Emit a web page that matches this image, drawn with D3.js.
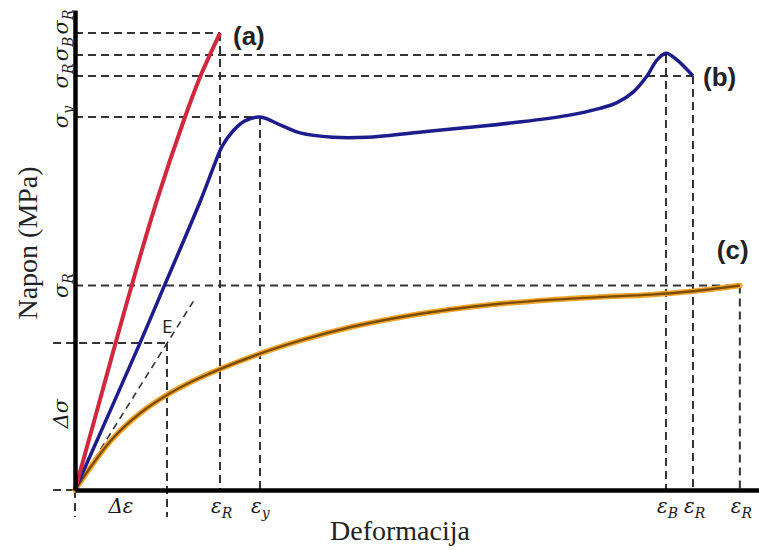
<!DOCTYPE html>
<html lang="hr">
<head>
<meta charset="UTF-8">
<title>Napon - deformacija</title>
<style>
body { margin: 0; background: #fff; }
</style>
</head>
<body>
<div id="chart"></div>
<script src="https://cdnjs.cloudflare.com/ajax/libs/d3/7.8.2/d3.min.js"></script>
<script>
// deformacija / napon, relative units (0..100 on both axes)
var curveA = [[0,0],[2.92,15],[5.85,30.2],[8.77,45],[11.99,60.4],[16.08,77.7],[18.27,86],[21.2,95.2]];
var curveB = [[0,0],[9.5,30.6],[12.87,41.9],[18.27,60],[20.47,68.1],[21.5,71.6],[23.1,74.8],[24.85,76.9],
  [27.05,77.7],[30.4,75.8],[32.9,74.4],[37.7,73.5],[42.7,73.5],[50,74.5],[57.3,75.5],[64.6,76.6],
  [71.9,78],[76.75,79.5],[79.24,80.7],[81.6,82.9],[83.6,86.2],[85.1,89.6],[86.4,91],[88,89.6],[90.35,86.25]];
var curveC = [[0,0],[2.49,5.2],[4.82,9.6],[7.31,13.3],[9.8,16.3],[13.45,19.8],[17.1,22.6],[21.2,25.2],
  [27.05,28.4],[32.9,31.1],[40.2,33.9],[47.5,36],[54.8,37.6],[62.1,38.8],[69.4,39.6],[76.75,40.2],
  [84.1,40.7],[90.35,41.4],[97.2,42.6]];
var tangentE = [[0,0],[17.3,39.3]];

// characteristic points (strain, stress) -> dashed guides
var keyPoints = [[21.2,95.2],[27.05,77.7],[86.4,90.6],[90.35,86.25],[97.2,42.6]];
var deltaEps = 13.45, deltaSigma = 30.6;

// tick labels
var epsLabels = [["R",21.2],["y",27.05],["B",86.4],["R",90.35],["R",97.2]];
var sigmaLabels = [["R",86.25],["B",90.6],["R",95.2],["y",77.7],["R",42.6]];
var curveNames = ["(a)","(b)","(c)"];

var width = 759, height = 550;
var x = d3.scaleLinear().domain([0, 100]).range([75, 759]);
var y = d3.scaleLinear().domain([0, 100]).range([490, 10]);

var svg = d3.select("#chart").append("svg")
  .attr("width", width)
  .attr("height", height);

var straight = d3.line()
  .x(function(d) { return x(d[0]); })
  .y(function(d) { return y(d[1]); });
var line = d3.line()
  .x(function(d) { return x(d[0]); })
  .y(function(d) { return y(d[1]); })
  .curve(d3.curveCatmullRom.alpha(0.5));
var smooth = d3.line()
  .x(function(d) { return x(d[0]); })
  .y(function(d) { return y(d[1]); })
  .curve(d3.curveMonotoneX);

// dashed guides
var guides = [];
keyPoints.forEach(function(p) {
  guides.push([[0, p[1]], [p[0], p[1]]]);
  guides.push([[p[0], p[1]], [p[0], 0]]);
});
guides.push([[-3.2, deltaSigma], [deltaEps, deltaSigma]]);
guides.push([[deltaEps, deltaSigma], [deltaEps, -5.6]]);
guides.push([[-3.2, 0], [0, 0]]);
guides.push([[0, 0], [0, -5.6]]);

svg.selectAll(".guide")
  .data(guides)
  .enter()
  .append("path")
  .attr("class", "guide")
  .attr("d", straight)
  .attr("fill", "none")
  .attr("stroke", "#333")
  .attr("stroke-width", 2)
  .attr("stroke-dasharray", "8,5");

svg.append("path")
  .attr("d", straight(tangentE))
  .attr("fill", "none")
  .attr("stroke", "#333")
  .attr("stroke-width", 1.6)
  .attr("stroke-dasharray", "7,5");

// curves
svg.append("path").attr("d", smooth(curveC))
  .attr("fill", "none").attr("stroke", "#f2a52a").attr("stroke-width", 5.5).attr("stroke-linecap", "round");
svg.append("path").attr("d", smooth(curveC))
  .attr("fill", "none").attr("stroke", "#7d4c06").attr("stroke-width", 2.4);
svg.append("path").attr("d", line(curveB))
  .attr("fill", "none").attr("stroke", "#1c1c8c").attr("stroke-width", 3.5).attr("stroke-linejoin", "round");
svg.append("path").attr("d", line(curveA))
  .attr("fill", "none").attr("stroke", "#d0283c").attr("stroke-width", 4);

// axes (lines only)
svg.append("g")
  .attr("transform", "translate(" + x(0) + ",0)")
  .call(d3.axisLeft(y).tickValues([]).tickSizeOuter(0))
  .select(".domain").attr("stroke", "#000").attr("stroke-width", 4.5);
svg.append("g")
  .attr("transform", "translate(0," + y(0) + ")")
  .call(d3.axisBottom(x).tickValues([]).tickSizeOuter(0))
  .select(".domain").attr("stroke", "#000").attr("stroke-width", 4.5);

// strain labels
var mathFont = "DejaVu Serif";
epsLabels.forEach(function(l) {
  var t = svg.append("text")
    .attr("x", x(l[1]) - 9)
    .attr("y", 513)
    .attr("font-family", mathFont)
    .attr("font-style", "italic")
    .attr("font-size", 20)
    .attr("fill", "#1a1a1a");
  t.append("tspan").text("\u03b5");
  t.append("tspan").attr("dy", 5).attr("font-size", 14).text(l[0]);
});
svg.append("text")
  .attr("x", x(deltaEps / 2))
  .attr("y", 513)
  .attr("text-anchor", "middle")
  .attr("font-family", mathFont)
  .attr("font-style", "italic")
  .attr("font-size", 20)
  .attr("fill", "#1a1a1a")
  .text("\u0394\u03b5");

// stress labels (rotated), stacked upward when they collide
var prevY = Infinity;
sigmaLabels.forEach(function(l, i) {
  var cy = y(l[1]);
  if (i < 3) { cy = Math.min(cy, prevY - 27); prevY = cy; }
  var t = svg.append("text")
    .attr("transform", "translate(68," + cy + ") rotate(-90)")
    .attr("text-anchor", "middle")
    .attr("font-family", mathFont)
    .attr("font-style", "italic")
    .attr("font-size", 21)
    .attr("fill", "#1a1a1a");
  t.append("tspan").text("\u03c3");
  t.append("tspan").attr("dy", 5).attr("font-size", 14).text(l[0]);
});
svg.append("text")
  .attr("transform", "translate(68," + (y(deltaSigma / 2) - 3) + ") rotate(-90)")
  .attr("text-anchor", "middle")
  .attr("font-family", mathFont)
  .attr("font-style", "italic")
  .attr("font-size", 21)
  .attr("fill", "#1a1a1a")
  .text("\u0394\u03c3");

// curve names
var ends = [curveA[curveA.length - 1], curveB[curveB.length - 1], curveC[curveC.length - 1]];
var nameOffsets = [[13, 12], [10, 10], [-23, -27]];
curveNames.forEach(function(n, i) {
  svg.append("text")
    .attr("x", x(ends[i][0]) + nameOffsets[i][0])
    .attr("y", y(ends[i][1]) + nameOffsets[i][1])
    .attr("font-family", "Liberation Sans, Arial, sans-serif")
    .attr("font-weight", "bold")
    .attr("font-size", 26)
    .attr("fill", "#222")
    .text(n);
});

svg.append("text")
  .attr("x", x(deltaEps) - 5)
  .attr("y", 333)
  .attr("font-family", "Open Sans, sans-serif")
  .attr("font-size", 19)
  .attr("fill", "#222")
  .text("E");

// axis titles
svg.append("text")
  .attr("transform", "translate(37,243) rotate(-90)")
  .attr("text-anchor", "middle")
  .attr("font-family", "Liberation Serif, Times New Roman, serif")
  .attr("font-size", 28)
  .attr("fill", "#222")
  .text("Napon (MPa)");
svg.append("text")
  .attr("x", 400)
  .attr("y", 540)
  .attr("text-anchor", "middle")
  .attr("font-family", "Liberation Serif, Times New Roman, serif")
  .attr("font-size", 28)
  .attr("fill", "#222")
  .text("Deformacija");
</script>
</body>
</html>
